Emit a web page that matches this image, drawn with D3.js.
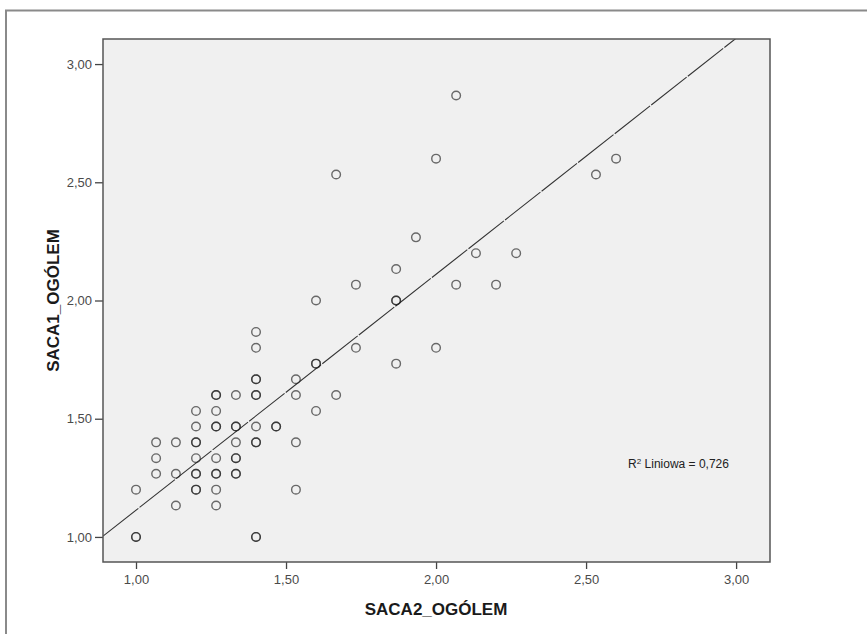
<!DOCTYPE html>
<html>
<head>
<meta charset="utf-8">
<script src="https://cdn.jsdelivr.net/npm/d3@7"></script>
<style>
  body { margin: 0; background: #fff; }
  svg { display: block; font-family: Arial, "Liberation Sans", sans-serif; }
</style>
</head>
<body>
<script>
// values (SACA2 on x, SACA1 on y)
const saca2 = [
  1.000, 1.000, 1.000,
  1.067, 1.067, 1.067,
  1.133, 1.133, 1.133,
  1.200, 1.200, 1.200, 1.200, 1.200, 1.200, 1.200, 1.200, 1.200,
  1.267, 1.267, 1.267, 1.267, 1.267, 1.267, 1.267, 1.267, 1.267, 1.267,
  1.333, 1.333, 1.333, 1.333, 1.333, 1.333, 1.333, 1.333,
  1.400, 1.400, 1.400, 1.400, 1.400, 1.400, 1.400, 1.400, 1.400, 1.400, 1.400,
  1.467, 1.467,
  1.533, 1.533, 1.533, 1.533,
  1.600, 1.600, 1.600, 1.600,
  1.667, 1.667,
  1.733, 1.733,
  1.867, 1.867, 1.867, 1.867,
  1.933,
  2.000, 2.000,
  2.067, 2.067,
  2.133,
  2.200,
  2.267,
  2.533,
  2.600
];
const saca1 = [
  1.200, 1.000, 1.000,
  1.400, 1.333, 1.267,
  1.400, 1.267, 1.133,
  1.533, 1.467, 1.400, 1.400, 1.333, 1.267, 1.267, 1.200, 1.200,
  1.600, 1.600, 1.533, 1.467, 1.467, 1.333, 1.267, 1.267, 1.200, 1.133,
  1.600, 1.467, 1.467, 1.400, 1.333, 1.333, 1.267, 1.267,
  1.867, 1.800, 1.667, 1.667, 1.600, 1.600, 1.467, 1.400, 1.400, 1.000, 1.000,
  1.467, 1.467,
  1.667, 1.600, 1.400, 1.200,
  2.000, 1.733, 1.733, 1.533,
  2.533, 1.600,
  2.067, 1.800,
  2.133, 2.000, 2.000, 1.733,
  2.267,
  2.600, 1.800,
  2.867, 2.067,
  2.200,
  2.067,
  2.200,
  2.533,
  2.600
];
const tickVals = [1.0, 1.5, 2.0, 2.5, 3.0];
const fit = {intercept: 0.115, slope: 0.998, r2: "0,726"};
const xTitle = "SACA2_OGÓLEM", yTitle = "SACA1_OGÓLEM";

var W = 867, H = 634;
var margin = {top: 39, left: 103},
    width = 667,
    height = 523;

var svg = d3.select("body").append("svg")
    .attr("width", W)
    .attr("height", H);

// outer frame
svg.append("rect")
    .attr("x", 6).attr("y", 10.5)
    .attr("width", 1000).attr("height", 1000)
    .attr("fill", "none")
    .attr("stroke", "#8a8a8a")
    .attr("stroke-width", 2);

var g = svg.append("g")
    .attr("transform", "translate(" + margin.left + "," + margin.top + ")");

var x = d3.scaleLinear().domain([0.89, 3.113]).range([0, width]);
var y = d3.scaleLinear().domain([0.894, 3.106]).range([height, 0]);

var fmt = d => d3.format(".2f")(d).replace(".", ",");

g.append("rect")
    .attr("width", width).attr("height", height)
    .attr("fill", "#f0f0f0");

g.append("clipPath").attr("id", "clip")
    .append("rect").attr("width", width).attr("height", height);

// axes
var xAxis = g.append("g")
    .attr("transform", "translate(0," + height + ")")
    .call(d3.axisBottom(x).tickValues(tickVals).tickFormat(fmt).tickSize(7).tickSizeOuter(0));
var yAxis = g.append("g")
    .call(d3.axisLeft(y).tickValues(tickVals).tickFormat(fmt).tickSize(8).tickSizeOuter(0));

[xAxis, yAxis].forEach(a => {
  a.select(".domain").remove();
  a.selectAll(".tick line").attr("stroke", "#444").attr("stroke-width", 1.3);
  a.selectAll(".tick text")
    .attr("font-family", "Arial, 'Liberation Sans', sans-serif")
    .attr("font-size", "13px")
    .attr("fill", "#4a4a4a");
});
xAxis.selectAll(".tick text").attr("y", 13).attr("dy", "0.71em");
yAxis.selectAll(".tick text").attr("x", -11);

// fit line
var lineX = [x.domain()[0], x.domain()[1]];
g.append("g").attr("clip-path", "url(#clip)")
  .append("line")
    .attr("x1", x(lineX[0])).attr("y1", y(fit.intercept + fit.slope * lineX[0]))
    .attr("x2", x(lineX[1])).attr("y2", y(fit.intercept + fit.slope * lineX[1]))
    .attr("stroke", "#333")
    .attr("stroke-width", 1.1)
    .attr("stroke-dasharray", "45,1.5");

// points
g.append("g")
  .selectAll("circle")
  .data(d3.range(saca2.length))
  .enter().append("circle")
    .attr("cx", i => x(saca2[i]))
    .attr("cy", i => y(saca1[i]))
    .attr("r", 4.3)
    .attr("fill", "none")
    .attr("stroke", "#222")
    .attr("stroke-opacity", 0.66)
    .attr("stroke-width", 1.4);

// plot border
g.append("rect")
    .attr("width", width).attr("height", height)
    .attr("fill", "none")
    .attr("stroke", "#555")
    .attr("stroke-width", 1.5);

// R² label
var r2 = g.append("text")
    .attr("x", x(2.64))
    .attr("y", y(1.29))
    .attr("font-size", "12px")
    .attr("fill", "#222");
r2.append("tspan").text("R");
r2.append("tspan").attr("font-size", "8px").attr("dy", "-0.5em").text("2");
r2.append("tspan").attr("dy", "0.33em").text(" Liniowa = " + fit.r2);

// axis titles
svg.append("text")
    .attr("x", margin.left + x(2.0))
    .attr("y", 615)
    .attr("text-anchor", "middle")
    .attr("font-weight", "bold")
    .attr("font-size", "17px")
    .attr("fill", "#1a1a1a")
    .text(xTitle);

svg.append("text")
    .attr("transform", "translate(59," + (margin.top + y(2.0)) + ") rotate(-90)")
    .attr("text-anchor", "middle")
    .attr("font-weight", "bold")
    .attr("font-size", "17px")
    .attr("fill", "#1a1a1a")
    .text(yTitle);
</script>
</body>
</html>
